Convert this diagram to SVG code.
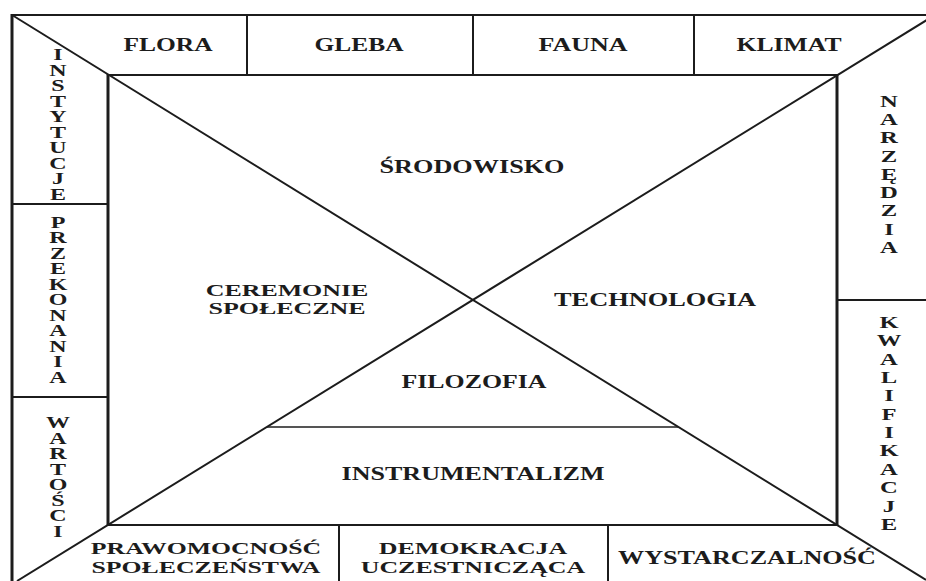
<svg xmlns="http://www.w3.org/2000/svg" width="926" height="581" viewBox="0 0 926 581">
<style>
.t{font-family:"Liberation Serif","Times New Roman",serif;font-weight:bold;font-size:18px;fill:#1c1c1c;text-anchor:middle}
.t2{font-family:"Liberation Serif","Times New Roman",serif;font-weight:bold;font-size:17px;fill:#1c1c1c;text-anchor:middle}
.t3{font-family:"Liberation Serif","Times New Roman",serif;font-weight:bold;font-size:16px;fill:#1c1c1c;text-anchor:middle}
.v{font-family:"Liberation Serif","Times New Roman",serif;font-weight:bold;font-size:16px;fill:#1c1c1c;text-anchor:middle}
.vr{font-family:"Liberation Serif","Times New Roman",serif;font-weight:bold;font-size:17px;fill:#1c1c1c;text-anchor:middle}
.ln{stroke:#1c1c1c;stroke-width:2;fill:none}
.thk{stroke:#1c1c1c;stroke-width:3;fill:none}
.thin{stroke:#1c1c1c;stroke-width:1.6;fill:none}
</style>
<rect width="926" height="581" fill="#fff"/>
<g id="frame">
<line class="ln" x1="12" y1="15" x2="926" y2="15"/>
<line class="thk" x1="12" y1="14" x2="12" y2="581"/>
<line class="ln" x1="107" y1="75" x2="838" y2="75"/>
<line class="ln" x1="107" y1="525" x2="838" y2="525"/>
<line class="thk" x1="108" y1="74" x2="108" y2="526"/>
<line class="thk" x1="837" y1="74" x2="837" y2="526"/>
</g>
<g id="connectors">
<line class="ln" x1="12" y1="15" x2="926" y2="580"/>
<line class="ln" x1="17" y1="581" x2="935" y2="15"/>
<line class="thin" x1="267" y1="427" x2="678" y2="427"/>
<line class="ln" x1="247" y1="15" x2="247" y2="75"/>
<line class="ln" x1="473" y1="15" x2="473" y2="75"/>
<line class="ln" x1="694" y1="15" x2="694" y2="75"/>
<line class="ln" x1="12" y1="204" x2="108" y2="204"/>
<line class="ln" x1="12" y1="397" x2="108" y2="397"/>
<line class="ln" x1="837" y1="300" x2="926" y2="300"/>
<line class="ln" x1="339" y1="525" x2="339" y2="581"/>
<line class="ln" x1="608" y1="525" x2="608" y2="581"/>
</g>
<g id="flora"><text class="t" x="168" y="51" textLength="89" lengthAdjust="spacingAndGlyphs">FLORA</text></g>
<g id="gleba"><text class="t" x="359" y="51" textLength="89" lengthAdjust="spacingAndGlyphs">GLEBA</text></g>
<g id="fauna"><text class="t" x="583" y="51" textLength="89" lengthAdjust="spacingAndGlyphs">FAUNA</text></g>
<g id="klimat"><text class="t" x="789" y="51" textLength="105" lengthAdjust="spacingAndGlyphs">KLIMAT</text></g>
<g id="srodowisko"><text class="t" x="472" y="173" textLength="185" lengthAdjust="spacingAndGlyphs">ŚRODOWISKO</text></g>
<g id="ceremonie" transform="translate(287,0) scale(1.62,1)">
<text class="t3"><tspan x="0" y="296">CEREMONIE</tspan><tspan x="0" y="314">SPOŁECZNE</tspan></text>
</g>
<g id="technologia"><text class="t" x="655" y="306" textLength="202" lengthAdjust="spacingAndGlyphs">TECHNOLOGIA</text></g>
<g id="filozofia"><text class="t" x="474" y="388" textLength="145" lengthAdjust="spacingAndGlyphs">FILOZOFIA</text></g>
<g id="instrumentalizm"><text class="t" x="473" y="480" textLength="263" lengthAdjust="spacingAndGlyphs">INSTRUMENTALIZM</text></g>
<g id="prawomocnosc" transform="translate(206,0) scale(1.515,1)">
<text class="t2"><tspan x="0" y="554">PRAWOMOCNOŚĆ</tspan><tspan x="0" y="573">SPOŁECZEŃSTWA</tspan></text>
</g>
<g id="demokracja" transform="translate(473,0) scale(1.525,1)">
<text class="t2"><tspan x="0" y="554">DEMOKRACJA</tspan><tspan x="0" y="573">UCZESTNICZĄCA</tspan></text>
</g>
<g id="wystarczalnosc"><text class="t" x="747" y="564" textLength="258" lengthAdjust="spacingAndGlyphs">WYSTARCZALNOŚĆ</text></g>
<g id="instytucje" transform="translate(58,0) scale(1.5,1)">
<text class="v"><tspan x="0" y="60">I</tspan><tspan x="0" y="75.6">N</tspan><tspan x="0" y="91.1">S</tspan><tspan x="0" y="106.7">T</tspan><tspan x="0" y="122.2">Y</tspan><tspan x="0" y="137.8">T</tspan><tspan x="0" y="153.3">U</tspan><tspan x="0" y="168.9">C</tspan><tspan x="0" y="184.4">J</tspan><tspan x="0" y="200">E</tspan></text>
</g>
<g id="przekonania" transform="translate(58,0) scale(1.5,1)">
<text class="v"><tspan x="0" y="228">P</tspan><tspan x="0" y="243.5">R</tspan><tspan x="0" y="259">Z</tspan><tspan x="0" y="274.5">E</tspan><tspan x="0" y="290">K</tspan><tspan x="0" y="305.5">O</tspan><tspan x="0" y="321">N</tspan><tspan x="0" y="336.5">A</tspan><tspan x="0" y="352">N</tspan><tspan x="0" y="367.5">I</tspan><tspan x="0" y="383">A</tspan></text>
</g>
<g id="wartosci" transform="translate(58,0) scale(1.5,1)">
<text class="v"><tspan x="0" y="428">W</tspan><tspan x="0" y="443.6">A</tspan><tspan x="0" y="459.1">R</tspan><tspan x="0" y="474.7">T</tspan><tspan x="0" y="490.3">O</tspan><tspan x="0" y="505.9">Ś</tspan><tspan x="0" y="521.4">C</tspan><tspan x="0" y="537">I</tspan></text>
</g>
<g id="narzedzia" transform="translate(889,0) scale(1.45,1)">
<text class="vr"><tspan x="0" y="107">N</tspan><tspan x="0" y="125.3">A</tspan><tspan x="0" y="143.5">R</tspan><tspan x="0" y="161.8">Z</tspan><tspan x="0" y="180">Ę</tspan><tspan x="0" y="198.3">D</tspan><tspan x="0" y="216.5">Z</tspan><tspan x="0" y="234.8">I</tspan><tspan x="0" y="253">A</tspan></text>
</g>
<g id="kwalifikacje" transform="translate(889,0) scale(1.45,1)">
<text class="vr"><tspan x="0" y="328">K</tspan><tspan x="0" y="346.4">W</tspan><tspan x="0" y="364.7">A</tspan><tspan x="0" y="383.1">L</tspan><tspan x="0" y="401.5">I</tspan><tspan x="0" y="419.8">F</tspan><tspan x="0" y="438.2">I</tspan><tspan x="0" y="456.5">K</tspan><tspan x="0" y="474.9">A</tspan><tspan x="0" y="493.3">C</tspan><tspan x="0" y="511.6">J</tspan><tspan x="0" y="530">E</tspan></text>
</g>
</svg>
